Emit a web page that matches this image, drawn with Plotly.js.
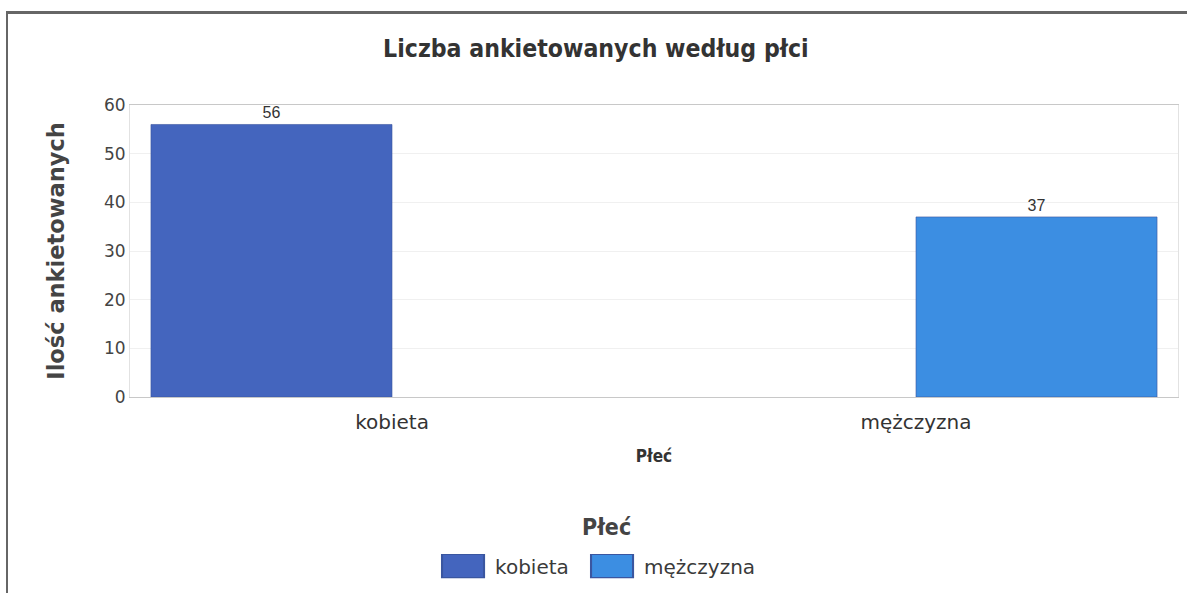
<!DOCTYPE html>
<html><head><meta charset="utf-8">
<script src="https://cdn.plot.ly/plotly-3.0.1.min.js"></script>
<style>
html,body{margin:0;padding:0;background:#fff;}
#wrap{position:relative;width:1187px;height:593px;overflow:hidden;}
#chart{width:1187px;height:593px;}
#frame{position:absolute;left:6px;top:11px;width:1185px;height:590px;border-left:2px solid #666;border-top:3px solid #666;pointer-events:none;}
</style></head>
<body>
<div id="wrap"><div id="chart"></div><div id="frame"></div></div>
<script>
const categories = ["kobieta", "mężczyzna"];
const seriesNames = ["kobieta", "mężczyzna"];
const kobietaValues = [56, null];
const mezczyznaValues = [null, 37];
const colors = ["#4465BE", "#3C8EE2"];
const yTicks = [0, 10, 20, 30, 40, 50, 60];
const legendTitle = "Płeć";

const values = [kobietaValues, mezczyznaValues];
const traces = seriesNames.map((name, i) => ({
  type: "bar",
  name: name,
  x: categories,
  y: values[i],
  text: values[i].map(v => v === null ? "" : String(v)),
  textposition: "outside",
  cliponaxis: false,
  textfont: {family: "Liberation Sans Narrow, Liberation Sans, Arial, sans-serif", size: 16, color: "#333"},
  marker: {color: colors[i], line: {color: "#3a56a0", width: 0.6}},
  hoverinfo: "x+y"
}));

const layout = {
  width: 1187, height: 593,
  margin: {l: 130, r: 9, t: 105, b: 196, autoexpand: false},
  paper_bgcolor: "#ffffff",
  plot_bgcolor: "#ffffff",
  barmode: "group",
  bargap: 0.08,
  bargroupgap: 0,
  title: {
    text: "<b>Liczba ankietowanych według płci</b>",
    x: 0.502, xanchor: "center", y: 0.918, yanchor: "middle",
    font: {family: "DejaVu Sans Condensed, DejaVu Sans, sans-serif", size: 24.6, color: "#333"}
  },
  xaxis: {
    type: "category",
    showgrid: false,
    showline: true, linecolor: "#c8c8c8", linewidth: 1,
    ticks: "", ticklabelstandoff: 7,
    tickfont: {family: "DejaVu Sans, sans-serif", size: 20, color: "#333"},
    title: {text: "<b>Płeć</b>", font: {family: "DejaVu Sans Condensed, DejaVu Sans, sans-serif", size: 17, color: "#333"}, standoff: 17},
    mirror: true
  },
  yaxis: {
    range: [0, 60],
    tickvals: yTicks,
    ticktext: yTicks.map(String),
    showgrid: true, gridcolor: "#f0f0f0", gridwidth: 1,
    zeroline: false,
    showline: true, linecolor: "#e2e2e2", mirror: true,
    ticks: "", ticklen: 0,
    tickfont: {family: "DejaVu Sans, sans-serif", size: 17, color: "#444"},
    title: {text: "<b>Ilość ankietowanych</b>", font: {family: "DejaVu Sans, sans-serif", size: 22.5, color: "#444"}, standoff: 33}
  },
  annotations: [{
    text: "<b>" + legendTitle + "</b>",
    xref: "paper", yref: "paper",
    x: 0.455, y: -0.445, xanchor: "center", yanchor: "middle",
    showarrow: false,
    font: {family: "DejaVu Sans Condensed, DejaVu Sans, sans-serif", size: 23, color: "#444"}
  }],
  showlegend: true,
  legend: {
    orientation: "h",
    x: 0.3006, xanchor: "left",
    y: -0.579, yanchor: "middle",
    font: {family: "DejaVu Sans, sans-serif", size: 20, color: "#3a3a3a"},
    itemwidth: 40,
    entrywidth: 94,
    entrywidthmode: "pixels",
    tracegroupgap: 0
  }
};

Plotly.newPlot("chart", traces, layout, {displayModeBar: false, staticPlot: true}).then(gd => {
  gd.querySelectorAll(".legend [clip-path]").forEach(el => el.removeAttribute("clip-path"));
  gd.querySelectorAll(".legend .legendpoints path").forEach(p => {
    const orig = p.getAttribute("transform") || "";
    p.setAttribute("transform", "translate(-7,0) " + orig + " scale(3.5,1.92)");
  });
});
</script>
</body></html>
